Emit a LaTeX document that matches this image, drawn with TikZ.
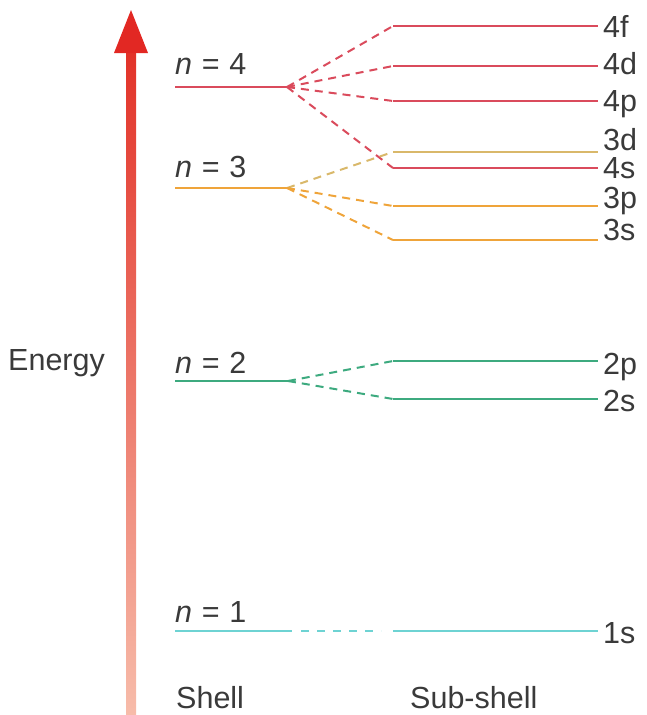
\documentclass[tikz,border=0pt]{standalone}
\usepackage{fontspec}
\setmainfont{Liberation Sans}
\definecolor{cfour}{HTML}{DA4B5C}
\definecolor{cthree}{HTML}{EFA43A}
\definecolor{cthreed}{HTML}{D9B86A}
\definecolor{ctwo}{HTML}{3DAA7F}
\definecolor{cone}{HTML}{6ED3D3}
\definecolor{ctext}{HTML}{3A3A3A}
\definecolor{arrtop}{RGB}{226,50,40}
\definecolor{arrbot}{RGB}{247,188,170}
\definecolor{arrhead}{RGB}{226,40,35}
\newcommand{\shelltxt}[1]{\textit{n}\hspace{0.32em}=\hspace{0.32em}#1}
\begin{document}
\begin{tikzpicture}[x=1pt,y=-1pt,
  lvl/.style={line width=2.4pt},
  split/.style={line width=2pt,dash pattern=on 8pt off 6pt},
  lab/.style={font=\fontsize{30.5}{32}\selectfont,text=ctext,inner sep=0pt,anchor=base west},
  sublab/.style={lab}]
\useasboundingbox (0,0) rectangle (646,715);
% energy arrow
\shade[top color=arrtop,bottom color=arrbot] (126,50) rectangle (136,715);
\fill[arrhead] (131,10) -- (148,53) -- (114,53) -- cycle;
\node[lab] (energy) at (8,370) {Energy};
% shell coordinates
\coordinate (n4a) at (175,87);  \coordinate (n4b) at (287,87);
\coordinate (n3a) at (175,188); \coordinate (n3b) at (287,188);
\coordinate (n2a) at (175,381); \coordinate (n2b) at (288,381);
\coordinate (n1a) at (175,631); \coordinate (n1b) at (292,631);
% sub-shell coordinates
\foreach \nm/\yy in {4f/26,4d/66,4p/101,3d/152,4s/168,3p/206,3s/240,2p/361,2s/399,1s/631}{
  \coordinate (L\nm) at (393,\yy); \coordinate (R\nm) at (598,\yy);}
% shell labels
\node[lab] (ln4) at (175,74) {\shelltxt{4}};
\node[lab] (ln3) at (175,177) {\shelltxt{3}};
\node[lab] (ln2) at (175,373) {\shelltxt{2}};
\node[lab] (ln1) at (175,622) {\shelltxt{1}};
% shell lines
\draw[lvl,cfour] (n4a) -- (n4b);
\draw[lvl,cthree] (n3a) -- (n3b);
\draw[lvl,ctwo] (n2a) -- (n2b);
\draw[lvl,cone] (n1a) -- (n1b);
% splits
\foreach \s in {4f,4d,4p,4s} \draw[split,cfour] (n4b) -- (L\s);
\draw[split,cthreed] (n3b) -- (L3d);
\foreach \s in {3p,3s} \draw[split,cthree] (n3b) -- (L\s);
\foreach \s in {2p,2s} \draw[split,ctwo] (n2b) -- (L\s);
\draw[cone,line width=2.2pt,dash pattern=on 8pt off 8pt,shorten <=9pt,shorten >=12pt] (n1b) -- (L1s);
% sub-shell lines
\foreach \s in {4f,4d,4p,4s} \draw[lvl,cfour] (L\s) -- (R\s);
\draw[lvl,cthreed] (L3d) -- (R3d);
\foreach \s in {3p,3s} \draw[lvl,cthree] (L\s) -- (R\s);
\foreach \s in {2p,2s} \draw[lvl,ctwo] (L\s) -- (R\s);
\draw[lvl,cone] (L1s) -- (R1s);
% sub-shell labels
\node[sublab] (t4f) at (603,37) {4f};
\node[sublab] (t4d) at (603,74) {4d};
\node[sublab] (t4p) at (603,111) {4p};
\node[sublab] (t3d) at (603,150) {3d};
\node[sublab] (t4s) at (603,178) {4s};
\node[sublab] (t3p) at (603,208) {3p};
\node[sublab] (t3s) at (603,240) {3s};
\node[sublab] (t2p) at (603,374) {2p};
\node[sublab] (t2s) at (603,411) {2s};
\node[sublab] (t1s) at (603,643) {1s};
% bottom labels
\node[lab] (shell) at (176,708) {Shell};
\node[lab] (subshell) at (410,708) {Sub-shell};
\end{tikzpicture}
\end{document}
